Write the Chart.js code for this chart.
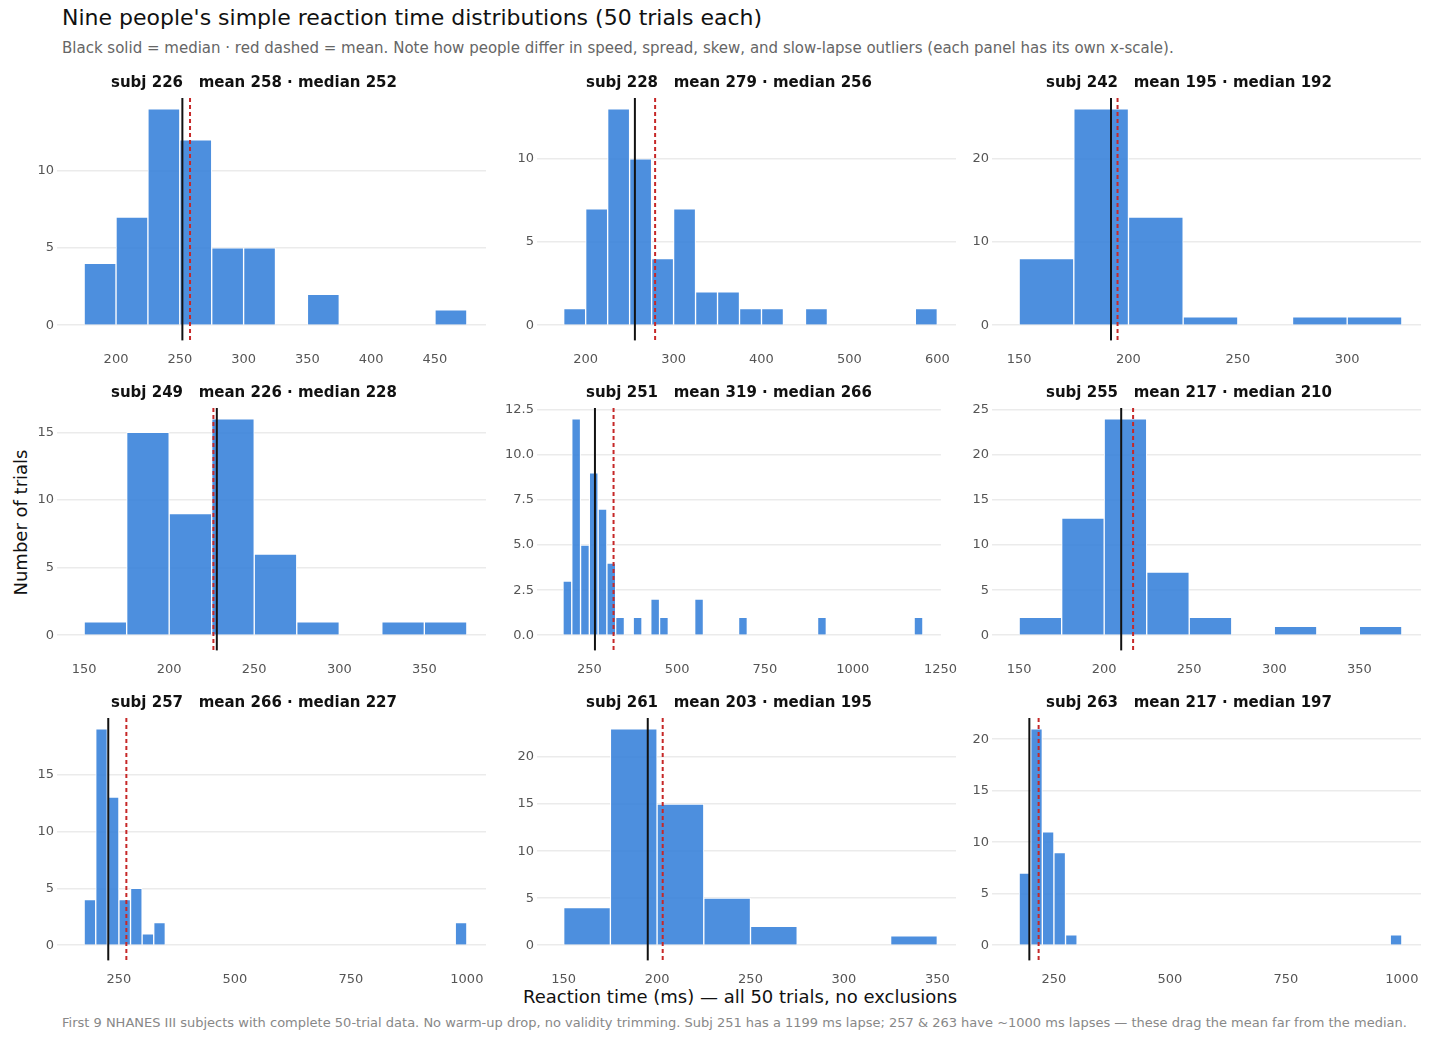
<!DOCTYPE html>
<html>
<head>
<meta charset="utf-8">
<script src="https://cdn.jsdelivr.net/npm/chart.js@4"></script>
<style>
  body { margin: 0; width: 1430px; height: 1040px; background: #fff; font-family: "DejaVu Sans", sans-serif; position: relative; overflow: hidden; }
  .t { position: absolute; white-space: nowrap; }
  canvas { position: absolute; }
</style>
</head>
<body>
<div class="t" style="left:62px;top:5px;font-size:22px;color:#111">Nine people's simple reaction time distributions (50 trials each)</div>
<div class="t" style="left:62px;top:39px;font-size:15px;color:#666">Black solid = median · red dashed = mean. Note how people differ in speed, spread, skew, and slow-lapse outliers (each panel has its own x-scale).</div>
<div class="t" style="left:-50px;top:515px;font-size:18px;color:#111;transform:rotate(-90deg);width:140px;text-align:center">Number of trials</div>
<div class="t" style="left:0;width:1480px;top:986px;font-size:18px;color:#111;text-align:center">Reaction time (ms)  —  all 50 trials, no exclusions</div>
<div class="t" style="left:62px;top:1015px;font-size:13px;color:#888">First 9 NHANES III subjects with complete 50-trial data. No warm-up drop, no validity trimming. Subj 251 has a 1199 ms lapse; 257 &amp; 263 have ~1000 ms lapses — these drag the mean far from the median.</div>

<script>
// bins are 25 ms wide; binStart = left edge of first bin, counts per bin
var subjects = ['226', '228', '242', '249', '251', '255', '257', '261', '263'];
var means    = [258, 279, 195, 226, 319, 217, 266, 203, 217];
var medians  = [252, 256, 192, 228, 266, 210, 227, 195, 197];
var binStart = [175, 175, 150, 150, 175, 150, 175, 150, 175];
var counts = [
  [4, 7, 14, 12, 5, 5, 0, 2, 0, 0, 0, 1],
  [1, 7, 13, 10, 4, 7, 2, 2, 1, 1, 0, 1, 0, 0, 0, 0, 1],
  [8, 26, 13, 1, 0, 1, 1],
  [1, 15, 9, 16, 6, 1, 0, 1, 1],
  [3, 12, 5, 9, 7, 4, 1, 0, 1, 0, 2, 1, 0, 0, 0, 2, 0, 0, 0, 0, 1, 0, 0, 0, 0, 0, 0, 0, 0, 1, 0, 0, 0, 0, 0, 0, 0, 0, 0, 0, 1],
  [2, 13, 24, 7, 2, 0, 1, 0, 1],
  [4, 19, 13, 4, 5, 1, 2, 0, 0, 0, 0, 0, 0, 0, 0, 0, 0, 0, 0, 0, 0, 0, 0, 0, 0, 0, 0, 0, 0, 0, 0, 0, 2],
  [4, 23, 15, 5, 2, 0, 0, 1],
  [7, 21, 11, 9, 1, 0, 0, 0, 0, 0, 0, 0, 0, 0, 0, 0, 0, 0, 0, 0, 0, 0, 0, 0, 0, 0, 0, 0, 0, 0, 0, 0, 1]
];
var xStep = [50, 100, 50, 50, 250, 50, 250, 50, 250];
var yStep = [5, 5, 10, 5, 2.5, 5, 5, 5, 5];
var binW = 25;

var colLeft = [22, 502, 957];
var colWidth = [468, 458, 468];
var rowTop = [70, 380, 690];

var refLines = {
  id: 'refLines',
  afterDatasetsDraw: function(chart, args, opts) {
    var ctx = chart.ctx, a = chart.chartArea, x = chart.scales.x;
    ctx.save();
    ctx.lineWidth = 2;
    ctx.strokeStyle = '#111';
    var px = x.getPixelForValue(opts.median);
    ctx.beginPath(); ctx.moveTo(px, a.top); ctx.lineTo(px, a.bottom); ctx.stroke();
    ctx.strokeStyle = '#c62828';
    ctx.setLineDash([4, 3]);
    px = x.getPixelForValue(opts.mean);
    ctx.beginPath(); ctx.moveTo(px, a.top); ctx.lineTo(px, a.bottom); ctx.stroke();
    ctx.restore();
  }
};

subjects.forEach(function(s, i) {
  var c = document.createElement('canvas');
  var col = i % 3, row = Math.floor(i / 3);
  c.style.left = colLeft[col] + 'px';
  c.style.top = rowTop[row] + 'px';
  c.style.width = colWidth[col] + 'px';
  c.style.height = '300px';
  document.body.appendChild(c);

  var pts = counts[i].map(function(n, k) {
    return { x: binStart[i] + binW * k + binW / 2, y: n };
  });
  var lo = binStart[i], hi = binStart[i] + binW * counts[i].length;
  var pad = 0.05 * (hi - lo);
  var ymax = Math.max.apply(null, counts[i]);

  new Chart(c, {
    type: 'bar',
    data: { datasets: [{
      data: pts,
      backgroundColor: 'rgba(52,128,218,0.88)',
      borderColor: '#ffffff',
      borderWidth: 1,
      categoryPercentage: 1,
      barPercentage: 1
    }]},
    options: {
      responsive: false,
      animation: false,
      layout: { padding: { right: 4, top: 0 } },
      plugins: {
        legend: { display: false },
        tooltip: { enabled: false },
        title: {
          display: true,
          text: 'subj ' + s + '   mean ' + means[i] + ' · median ' + medians[i],
          font: { family: 'DejaVu Sans', size: 15, weight: 'bold' },
          color: '#111',
          padding: { top: 4, bottom: 6 }
        },
        refLines: { mean: means[i], median: medians[i] }
      },
      scales: {
        x: {
          type: 'linear',
          offset: false,
          min: lo - pad, max: hi + pad,
          grid: { display: false },
          border: { display: false },
          ticks: { color: '#555', font: { family: 'DejaVu Sans', size: 13 }, maxRotation: 0, autoSkip: false,
            callback: function(v) { return String(v); } },
          afterBuildTicks: function(ax) {
            var st = xStep[i], out = [];
            for (var v = Math.ceil(ax.min / st) * st; v <= ax.max + 1e-6; v += st) out.push({ value: v });
            ax.ticks = out;
          }
        },
        y: {
          min: -0.07 * ymax, max: ymax * 1.05,
          grid: { color: '#ebebeb', lineWidth: 1.5 },
          border: { display: false },
          ticks: { color: '#555', font: { family: 'DejaVu Sans', size: 13 },
            callback: function(v) { return yStep[i] === 2.5 ? v.toFixed(1) : String(v); } },
          afterBuildTicks: function(ax) {
            var st = yStep[i], out = [];
            for (var v = 0; v <= ax.max; v += st) out.push({ value: v });
            ax.ticks = out;
          },
          afterFit: function(ax) { ax.width = 43; }
        }
      }
    },
    plugins: [refLines]
  });
});
</script>
</body>
</html>
